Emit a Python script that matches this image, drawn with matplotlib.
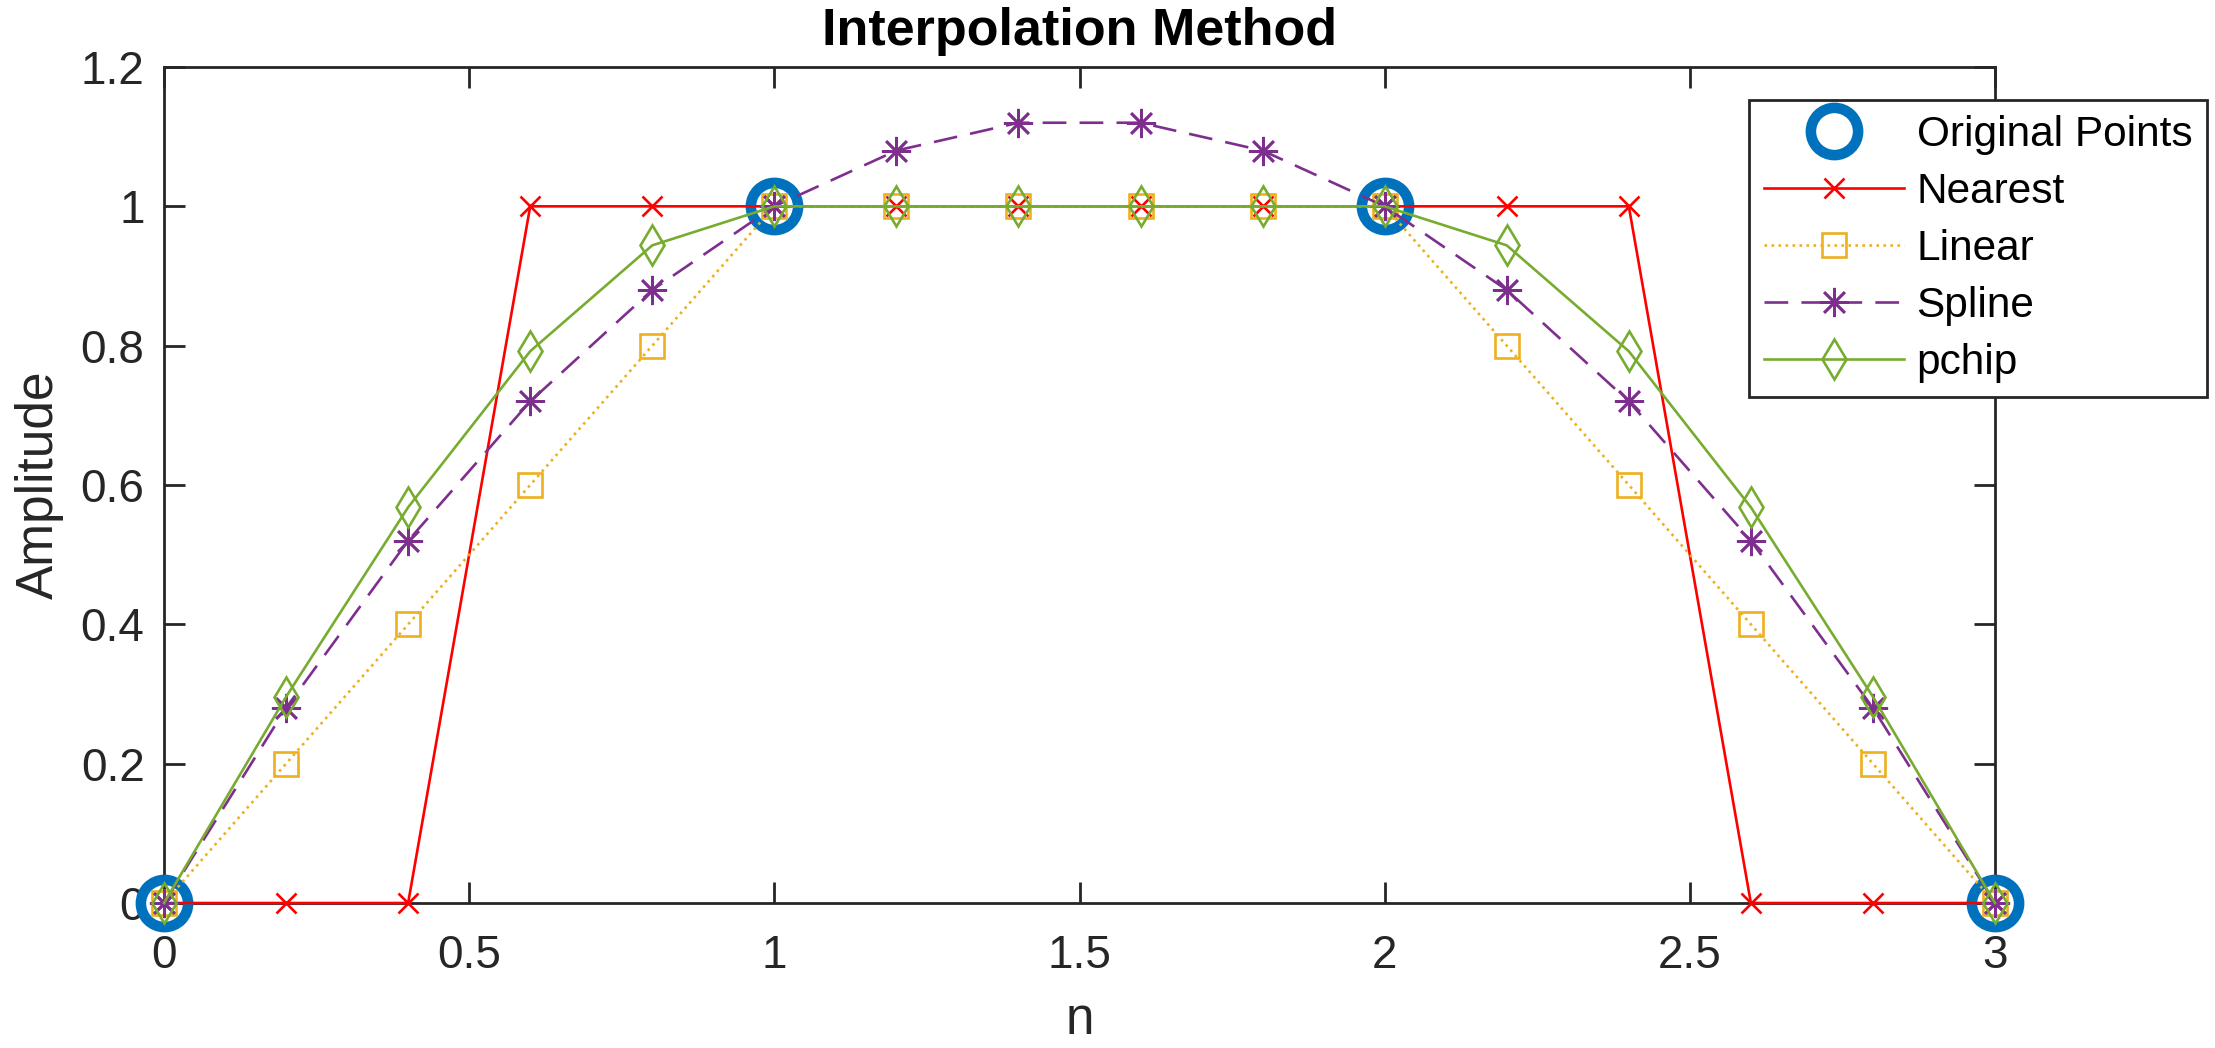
import matplotlib
matplotlib.use("Agg")
import matplotlib.pyplot as plt

plt.rcParams['font.family'] = ['Liberation Sans', 'DejaVu Sans']

# ---- data ----
x_orig = [0, 1, 2, 3]
y_orig = [0, 1, 1, 0]
x_interp = [0, 0.2, 0.4, 0.6, 0.8, 1.0, 1.2, 1.4, 1.6, 1.8, 2.0, 2.2, 2.4, 2.6, 2.8, 3.0]
y_nearest = [0, 0, 0, 1, 1, 1, 1, 1, 1, 1, 1, 1, 1, 0, 0, 0]
y_linear = [0, 0.2, 0.4, 0.6, 0.8, 1, 1, 1, 1, 1, 1, 0.8, 0.6, 0.4, 0.2, 0]
y_spline = [0, 0.28, 0.52, 0.72, 0.88, 1.0, 1.08, 1.12, 1.12, 1.08, 1.0, 0.88, 0.72, 0.52, 0.28, 0]
y_pchip = [0, 0.296, 0.568, 0.792, 0.944, 1, 1, 1, 1, 1, 1, 0.944, 0.792, 0.568, 0.296, 0]
x_ticks = [0, 0.5, 1, 1.5, 2, 2.5, 3]
x_ticklabels = ['0', '0.5', '1', '1.5', '2', '2.5', '3']
y_ticks = [0, 0.2, 0.4, 0.6, 0.8, 1.0, 1.2]
y_ticklabels = ['0', '0.2', '0.4', '0.6', '0.8', '1', '1.2']
labels = ['Original Points', 'Nearest', 'Linear', 'Spline', 'pchip']

W, H = 2215, 1048
fig = plt.figure(figsize=(W / 100, H / 100), dpi=100)
ax = fig.add_axes([164 / W, 1 - 903 / H, (1995 - 164) / W, (903 - 67) / H])

lw = 1.9
ax.plot(x_orig, y_orig, linestyle='none', marker='o', markersize=34,
        markerfacecolor='none', markeredgecolor='#0072BD', markeredgewidth=7.6,
        clip_on=False, zorder=3, label=labels[0])
ax.plot(x_interp, y_nearest, '-', color='#FF0000', marker='x', markersize=14,
        markeredgewidth=lw, linewidth=lw, clip_on=False, zorder=4, label=labels[1])
ax.plot(x_interp, y_linear, ':', color='#EDB120', marker='s', markersize=17.5,
        markerfacecolor='none', markeredgewidth=lw, linewidth=lw, clip_on=False,
        zorder=5, label=labels[2])
ax.plot(x_interp, y_spline, '--', color='#7E2F8E', marker=(8, 2, 0), markersize=21,
        markeredgewidth=lw, linewidth=lw, dashes=(9, 5), clip_on=False, zorder=6,
        label=labels[3])
ax.plot(x_interp, y_pchip, '-', color='#77AC30', marker='d', markersize=20.5,
        markerfacecolor='none', markeredgewidth=lw, linewidth=lw, clip_on=False,
        zorder=7, label=labels[4])

ax.set_xlim(0, 3)
ax.set_ylim(0, 1.2)
ax.set_xticks(x_ticks)
ax.set_xticklabels(x_ticklabels)
ax.set_yticks(y_ticks)
ax.set_yticklabels(y_ticklabels)

axc = '#262626'
for s in ax.spines.values():
    s.set_color(axc)
    s.set_linewidth(2.0)
ax.tick_params(axis='both', direction='in', length=15, width=2.0, colors=axc,
               labelsize=33, top=True, right=True)
ax.tick_params(axis='x', pad=22)
ax.tick_params(axis='y', pad=14)

ax.set_title('Interpolation Method', fontsize=37.5, fontweight='bold', color='black', pad=16)
ax.set_xlabel('n', fontsize=37, color=axc, labelpad=13)
ax.set_ylabel('Amplitude', fontsize=37, color=axc, labelpad=12)

leg = ax.legend(loc='upper right', bbox_to_anchor=(2207 / W, 1 - 100 / H),
                bbox_transform=fig.transFigure, borderaxespad=0, fontsize=30.5,
                frameon=True, fancybox=False, framealpha=1, edgecolor=axc,
                handlelength=3.3, handletextpad=0.3, labelspacing=0.4,
                borderpad=0.35)
leg.get_frame().set_linewidth(2.0)
for t in leg.get_texts():
    t.set_color('black')

fig.savefig('out.png', dpi=100)
